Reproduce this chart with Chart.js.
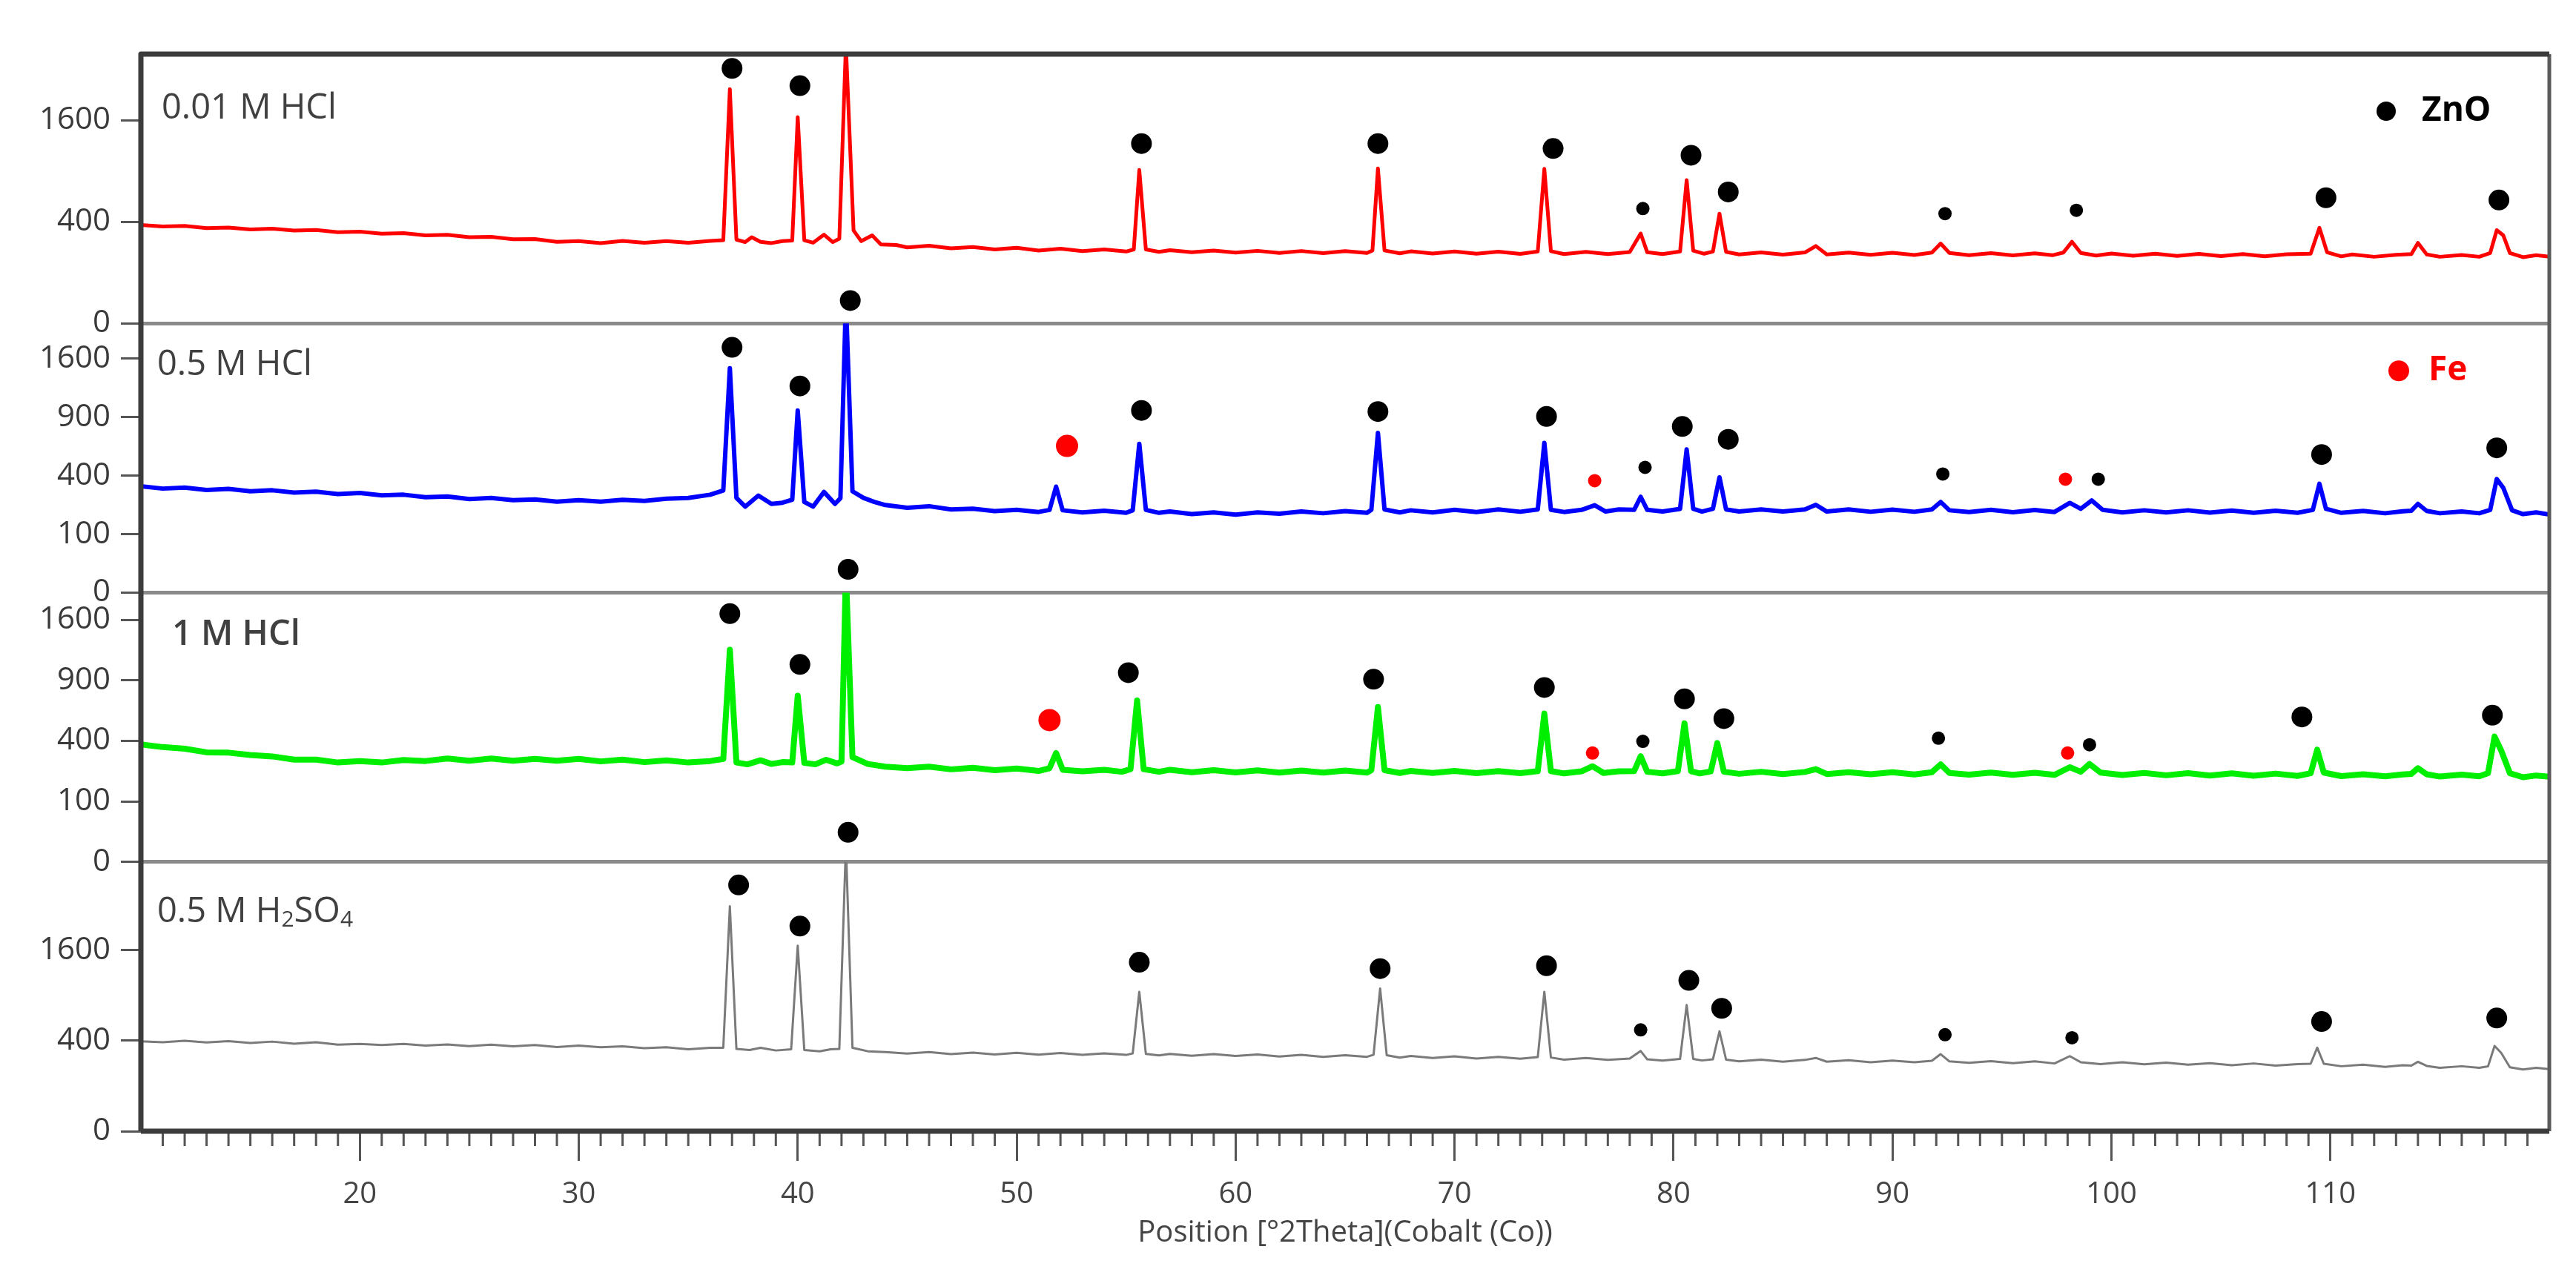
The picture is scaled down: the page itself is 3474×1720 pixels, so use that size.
<!DOCTYPE html>
<html lang="en">
<head>
  <meta charset="UTF-8" />
  <title>XRD patterns - ZnO / Fe</title>
  <script src="https://cdn.jsdelivr.net/npm/chart.js"></script>
  <style>
    body { margin: 0; background: #ffffff; }
    .wrap { width: 3474px; height: 1720px; position: relative; }
  </style>
</head>
<body>
  <div class="wrap"><canvas id="xrd"></canvas></div>

  <script>
    // x axis: position in degrees 2theta
    const xMin = 10;
    const xMax = 120;
    const xTickStep = 10;

    // y tick labels (counts, axis drawn on a square-root scale)
    const ticksSparse = [0, 400, 1600];
    const ticksFull = [0, 100, 400, 900, 1600];

    // top of each panel, in counts
    const panelMax = [2810, 2116, 1980, 3540];

    // traces, [2theta, counts]
    const trace001HCl = [
      [10,376],[11,364],[12,368],[13,352],[14,356],[15,342],[16,348],[17,334],[18,338],[19,322],
      [20,326],[21,312],[22,316],[23,300],[24,304],[25,288],[26,290],[27,274],[28,276],[29,258],
      [30,262],[31,250],[32,264],[33,252],[34,262],[35,252],[36,264],[36.6,268],[36.9,2125],[37.2,272],
      [37.6,256],[37.9,288],[38.3,258],[38.8,250],[39.3,262],[39.75,266],[40.0,1650],[40.3,268],[40.7,252],[41.2,305],
      [41.6,256],[41.9,278],[42.2,3000],[42.55,335],[42.9,262],[43.4,300],[43.8,242],[44.5,238],[45,224],[46,234],
      [47,218],[48,226],[49,212],[50,222],[51,206],[52,216],[53,202],[54,212],[55,200],[55.35,212],
      [55.6,912],[55.9,212],[56.5,198],[57,208],[58,196],[59,206],[60,194],[61,204],[62,192],[63,203],
      [64,191],[65,202],[66,192],[66.25,206],[66.5,930],[66.8,206],[67.5,190],[68,201],[69,189],[70,200],
      [71,188],[72,199],[73,187],[73.8,200],[74.1,925],[74.4,202],[75,186],[76,198],[77,186],[78,197],
      [78.5,313],[78.8,196],[79.5,186],[80.3,200],[80.6,795],[80.9,205],[81.4,188],[81.8,200],[82.1,467],[82.4,198],
      [83,184],[84,195],[85,183],[86,195],[86.5,232],[87,184],[88,194],[89,182],[90,193],[91,181],
      [91.8,194],[92.2,247],[92.6,192],[93.5,180],[94.5,191],[95.5,179],[96.5,190],[97.3,180],[97.8,194],[98.2,258],
      [98.6,192],[99.3,178],[100,189],[101,177],[102,188],[103,176],[104,187],[105,175],[106,186],[107,174],
      [108,185],[109.1,188],[109.5,354],[109.85,196],[110.5,174],[111,184],[112,172],[113,182],[113.7,186],[114.0,251],
      [114.4,184],[115,172],[116,181],[116.8,172],[117.3,192],[117.6,337],[117.9,300],[118.2,192],[118.8,170],[119.4,180],
      [120,172]
    ];
    const trace05HCl = [
      [10,330],[11,316],[12,322],[13,308],[14,314],[15,300],[16,306],[17,292],[18,298],[19,284],
      [20,290],[21,276],[22,280],[23,266],[24,270],[25,256],[26,262],[27,250],[28,254],[29,242],
      [30,250],[31,242],[32,252],[33,246],[34,258],[35,262],[36,280],[36.6,305],[36.9,1470],[37.2,262],
      [37.6,216],[38.2,275],[38.8,230],[39.3,236],[39.75,252],[40.0,969],[40.3,240],[40.7,216],[41.2,296],[41.7,230],
      [41.95,260],[42.2,2500],[42.5,300],[43.0,262],[43.5,240],[44,224],[45,210],[46,218],[47,202],[48,206],
      [49,194],[50,200],[51,190],[51.5,200],[51.8,328],[52.1,198],[53,188],[54,196],[55,186],[55.3,198],
      [55.6,647],[55.9,200],[56.5,186],[57,192],[58,180],[59,188],[60,178],[61,188],[62,182],[63,192],
      [64,184],[65,194],[66,186],[66.2,200],[66.5,744],[66.8,202],[67.5,188],[68,198],[69,188],[70,200],
      [71,190],[72,202],[73,191],[73.8,202],[74.1,655],[74.4,200],[75,190],[75.8,200],[76.4,223],[76.9,192],
      [77.5,202],[78.2,200],[78.5,268],[78.8,200],[79.5,192],[80.3,205],[80.6,599],[80.9,205],[81.3,192],[81.8,205],
      [82.1,388],[82.4,202],[83,192],[84,202],[85,192],[86,202],[86.5,225],[87,192],[88,202],[89,191],
      [90,201],[91,191],[91.8,202],[92.2,240],[92.6,198],[93.5,190],[94.5,200],[95.5,189],[96.5,199],[97.4,190],
      [98.1,235],[98.6,205],[99.1,248],[99.6,200],[100.5,188],[101.5,198],[102.5,188],[103.5,198],[104.5,187],[105.5,197],
      [106.5,186],[107.5,196],[108.5,186],[109.2,200],[109.5,346],[109.8,205],[110.5,186],[111.5,195],[112.5,184],[113.3,193],
      [113.7,196],[114.0,230],[114.4,195],[115,184],[116,192],[116.8,184],[117.3,200],[117.6,377],[117.9,320],[118.3,198],
      [118.8,180],[119.4,188],[120,178]
    ];
    const trace1HCl = [
      [10,377],[11,360],[12,350],[13,328],[14,326],[15,312],[16,304],[17,286],[18,286],[19,270],
      [20,278],[21,270],[22,284],[23,278],[24,292],[25,280],[26,292],[27,280],[28,290],[29,280],
      [30,290],[31,276],[32,286],[33,272],[34,282],[35,270],[36,278],[36.6,290],[36.9,1230],[37.2,270],
      [37.7,260],[38.3,282],[38.8,262],[39.3,272],[39.75,270],[40.0,755],[40.3,268],[40.8,260],[41.3,285],[41.8,265],
      [42.0,275],[42.2,2300],[42.5,300],[43.2,262],[44,248],[45,240],[46,248],[47,234],[48,242],[49,230],
      [50,238],[51,226],[51.5,240],[51.8,324],[52.1,232],[53,224],[54,232],[54.8,222],[55.2,235],[55.5,712],
      [55.8,235],[56.5,222],[57,232],[58,220],[59,230],[60,219],[61,229],[62,218],[63,228],[64,218],
      [65,228],[66,218],[66.2,230],[66.5,655],[66.8,230],[67.5,216],[68,226],[69,216],[70,226],[71,215],
      [72,225],[73,215],[73.8,225],[74.1,601],[74.4,225],[75,214],[75.8,224],[76.3,250],[76.8,216],[77.5,224],
      [78.2,225],[78.5,305],[78.8,222],[79.5,214],[80.2,225],[80.5,524],[80.8,225],[81.2,214],[81.7,224],[82.0,386],
      [82.3,222],[83,212],[84,222],[85,211],[86,221],[86.5,235],[87,211],[88,220],[89,210],[90,220],
      [91,209],[91.8,220],[92.2,260],[92.6,216],[93.5,208],[94.5,218],[95.5,207],[96.5,217],[97.4,207],[98.1,245],
      [98.6,222],[99.0,262],[99.5,218],[100.5,206],[101.5,216],[102.5,205],[103.5,215],[104.5,204],[105.5,214],[106.5,203],
      [107.5,213],[108.5,202],[109.1,215],[109.4,344],[109.7,218],[110.5,201],[111.5,210],[112.5,200],[113.3,209],[113.7,212],
      [114.0,240],[114.4,210],[115,199],[116,208],[116.8,200],[117.2,215],[117.5,429],[117.8,340],[118.2,215],[118.8,196],
      [119.4,204],[120,198]
    ];
    const trace05H2SO4 = [
      [10,395],[11,386],[12,400],[13,384],[14,396],[15,380],[16,392],[17,374],[18,386],[19,366],
      [20,372],[21,362],[22,372],[23,358],[24,368],[25,354],[26,366],[27,352],[28,362],[29,346],
      [30,358],[31,344],[32,352],[33,336],[34,344],[35,328],[36,340],[36.6,340],[36.9,2470],[37.2,330],
      [37.8,322],[38.3,340],[39.0,318],[39.7,328],[40.0,1680],[40.3,322],[41,312],[41.5,328],[41.9,330],[42.2,4000],
      [42.5,340],[43.2,312],[44,306],[45,294],[46,306],[47,290],[48,302],[49,288],[50,300],[51,286],
      [52,298],[53,284],[54,296],[55,284],[55.3,295],[55.6,949],[55.9,292],[56.5,280],[57,292],[58,278],
      [59,290],[60,276],[61,288],[62,272],[63,284],[64,270],[65,282],[66,270],[66.3,285],[66.6,994],
      [66.9,282],[67.5,264],[68,276],[69,262],[70,274],[71,258],[72,270],[73,256],[73.8,268],[74.1,949],
      [74.4,265],[75,250],[76,262],[77,248],[78,258],[78.5,314],[78.8,252],[79.5,244],[80.3,255],[80.6,777],
      [80.9,255],[81.3,244],[81.8,252],[82.1,487],[82.4,250],[83,238],[84,250],[85,236],[86,248],[86.5,262],
      [87,236],[88,246],[89,232],[90,244],[91,232],[91.8,242],[92.2,290],[92.6,238],[93.5,228],[94.5,240],
      [95.5,226],[96.5,238],[97.4,224],[98.1,275],[98.6,232],[99.5,220],[100.5,232],[101.5,218],[102.5,230],[103.5,216],
      [104.5,226],[105.5,212],[106.5,224],[107.5,210],[108.5,220],[109.1,222],[109.4,340],[109.7,222],[110.5,206],[111.5,216],
      [112.5,202],[113.3,212],[113.7,210],[114.0,235],[114.4,208],[115,196],[116,206],[116.8,196],[117.2,205],[117.5,355],
      [117.8,300],[118.2,200],[118.8,186],[119.4,196],[120,188]
    ];

    // phase markers, [2theta, counts]
    const znoMarks1 = [[37.0,2520],[40.1,2190],[42.4,3460],[55.7,1253],[66.5,1253],[74.5,1185],[80.8,1096],[82.5,670],[109.8,612],[117.7,590]];
    const znoMinor1 = [[78.6,511],[92.4,467],[98.4,496]];
    const znoMarks2 = [[37.0,1756],[40.1,1247],[42.4,2490],[55.7,969],[66.5,957],[74.2,906],[80.4,806],[82.5,686],[109.6,557],[117.6,612]];
    const znoMinor2 = [[78.7,458],[92.3,411],[99.4,376]];
    const feMarks2 = [[52.3,628]];
    const feMinor2 = [[76.4,366],[97.9,376]];
    const znoMarks3 = [[36.9,1683],[40.1,1065],[42.3,2337],[55.1,978],[66.3,911],[74.1,831],[80.5,726],[82.3,561],[108.7,574],[117.4,588]];
    const znoMinor3 = [[78.6,397],[92.1,418],[99.0,375]];
    const feMarks3 = [[51.5,549]];
    const feMinor3 = [[76.3,324],[98.0,324]];
    const znoMarks4 = [[37.3,2960],[40.1,2054],[42.3,4360],[55.6,1394],[66.6,1290],[74.2,1337],[80.7,1110],[82.2,737],[109.6,587],[117.6,625]];
    const znoMinor4 = [[78.5,501],[92.4,455],[98.2,426]];

    const FONT = "'Open Sans', 'Noto Sans', sans-serif";

    // panels from top to bottom
    const panels = [
      { id: 'p1', title: [['0.01 M HCl', 0]], weight: 400, dx: 28, dy: 74, max: panelMax[0], ticks: ticksSparse,
        trace: trace001HCl, color: '#ff0000', lw: 5, zno: znoMarks1, znoMinor: znoMinor1, fe: [], feMinor: [] },
      { id: 'p2', title: [['0.5 M HCl', 0]], weight: 400, dx: 22, dy: 56, max: panelMax[1], ticks: ticksFull,
        trace: trace05HCl, color: '#0000ff', lw: 6, zno: znoMarks2, znoMinor: znoMinor2, fe: feMarks2, feMinor: feMinor2 },
      { id: 'p3', title: [['1 M HCl', 0]], weight: 600, dx: 42, dy: 57, max: panelMax[2], ticks: ticksFull,
        trace: trace1HCl, color: '#00ee00', lw: 8, zno: znoMarks3, znoMinor: znoMinor3, fe: feMarks3, feMinor: feMinor3 },
      { id: 'p4', title: [['0.5 M H', 0], ['2', 1], ['SO', 0], ['4', 1]], weight: 400, dx: 22, dy: 68, max: panelMax[3], ticks: ticksSparse,
        trace: trace05H2SO4, color: '#7a7a7a', lw: 3, zno: znoMarks4, znoMinor: znoMinor4, fe: [], feMinor: [] }
    ];

    const toXY = arr => arr.map(([x, c]) => ({ x: x, y: Math.sqrt(c) }));

    const datasets = [];
    panels.forEach(p => {
      datasets.push({
        data: toXY(p.trace), yAxisID: p.id, showLine: true,
        borderColor: p.color, borderWidth: p.lw, pointRadius: 0, tension: 0,
        borderJoinStyle: 'round'
      });
      const dots = (arr, color, r) => ({
        data: toXY(arr), yAxisID: p.id, showLine: false, clip: false,
        pointRadius: r, pointBackgroundColor: color, pointBorderWidth: 0
      });
      datasets.push(dots(p.zno, '#000000', 14));
      datasets.push(dots(p.znoMinor, '#000000', 9));
      datasets.push(dots(p.fe, '#ff0000', 15));
      datasets.push(dots(p.feMinor, '#ff0000', 9));
    });

    // y scales, listed bottom panel first so the stack puts p1 on top
    const scales = {
      x: {
        type: 'linear', min: xMin, max: xMax,
        border: { display: false },
        grid: {
          drawOnChartArea: false, tickLength: 40, tickWidth: 3,
          tickColor: c => (c.tick && (c.tick.value === xMin || c.tick.value === xMax)) ? 'rgba(0,0,0,0)' : '#555'
        },
        ticks: {
          stepSize: xTickStep, autoSkip: false, maxRotation: 0, padding: 22,
          color: '#444', font: { family: FONT, size: 40 },
          callback: v => (v > xMin && v < xMax) ? v : ''
        },
        title: {
          display: true, text: 'Position [°2Theta](Cobalt (Co))',
          color: '#444', font: { family: FONT, size: 40 }, padding: { top: 0, bottom: 32 }
        },
        afterFit: s => { s.height = 194; }
      }
    };
    panels.slice().reverse().forEach(p => {
      scales[p.id] = {
        type: 'linear', position: 'left', stack: 'xrd', stackWeight: 1,
        min: 0, max: Math.sqrt(p.max),
        border: { display: false },
        afterBuildTicks: s => { s.ticks = p.ticks.map(v => ({ value: Math.sqrt(v) })); },
        ticks: {
          autoSkip: false, padding: 14, color: '#3a3a3a',
          font: { family: FONT, size: 42 },
          callback: v => Math.round(v * v)
        },
        grid: {
          color: c => (c.tick && c.tick.value === 0) ? '#8a8a8a' : 'rgba(0,0,0,0)',
          lineWidth: 5, tickLength: 27, tickWidth: 3, tickColor: '#555'
        },
        afterFit: s => { s.width = 190; }
      };
    });

    // frame + minor ticks on the x axis
    const framePlugin = {
      id: 'frame',
      afterDraw(chart) {
        const { ctx, chartArea: a } = chart;
        const xs = chart.scales.x;
        ctx.save();
        ctx.lineJoin = 'round';
        ctx.lineCap = 'butt';
        ctx.strokeStyle = '#555';
        ctx.lineWidth = 3;
        for (let d = xMin + 1; d < xMax; d++) {
          if (d % xTickStep === 0) continue;
          const px = xs.getPixelForValue(d);
          ctx.beginPath(); ctx.moveTo(px, a.bottom); ctx.lineTo(px, a.bottom + 20); ctx.stroke();
        }
        ctx.strokeStyle = '#5a5a5a';
        ctx.lineWidth = 5;
        ctx.beginPath(); ctx.moveTo(a.right, a.top); ctx.lineTo(a.right, a.bottom); ctx.stroke();
        ctx.strokeStyle = '#3c3c3c';
        ctx.lineWidth = 7;
        ctx.beginPath(); ctx.moveTo(a.left, a.bottom); ctx.lineTo(a.left, a.top); ctx.lineTo(a.right, a.top); ctx.stroke();
        ctx.beginPath(); ctx.moveTo(a.left, a.bottom); ctx.lineTo(a.right, a.bottom); ctx.stroke();
        ctx.restore();
      }
    };

    // sample names and phase legend
    const textPlugin = {
      id: 'panelText',
      afterDraw(chart) {
        const { ctx, chartArea: a } = chart;
        ctx.save();
        ctx.textBaseline = 'middle';
        ctx.textAlign = 'left';
        panels.forEach(p => {
          const s = chart.scales[p.id];
          let x = a.left + p.dx;
          const y = s.top + p.dy;
          p.title.forEach(([txt, sub]) => {
            ctx.font = p.weight + ' ' + (sub ? 30 : 47) + 'px ' + FONT;
            ctx.fillStyle = '#404040';
            ctx.fillText(txt, x, sub ? y + 11 : y);
            x += ctx.measureText(txt).width;
          });
        });
        const s1 = chart.scales.p1, s2 = chart.scales.p2;
        ctx.fillStyle = '#000';
        ctx.beginPath(); ctx.arc(a.right - 220, s1.top + 77, 13, 0, Math.PI * 2); ctx.fill();
        ctx.font = '700 46px ' + FONT;
        ctx.fillText('ZnO', a.right - 172, s1.top + 77);
        ctx.fillStyle = '#ff0000';
        ctx.beginPath(); ctx.arc(a.right - 203, s2.top + 64, 14, 0, Math.PI * 2); ctx.fill();
        ctx.fillText('Fe', a.right - 163, s2.top + 64);
        ctx.restore();
      }
    };

    new Chart(document.getElementById('xrd'), {
      type: 'scatter',
      data: { datasets: datasets },
      options: {
        responsive: true,
        maintainAspectRatio: false,
        animation: false,
        devicePixelRatio: 1,
        layout: { padding: { left: 0, top: 73, right: 36, bottom: 0 } },
        plugins: { legend: { display: false }, tooltip: { enabled: false } },
        scales: scales
      },
      plugins: [framePlugin, textPlugin]
    });
  </script>
</body>
</html>
